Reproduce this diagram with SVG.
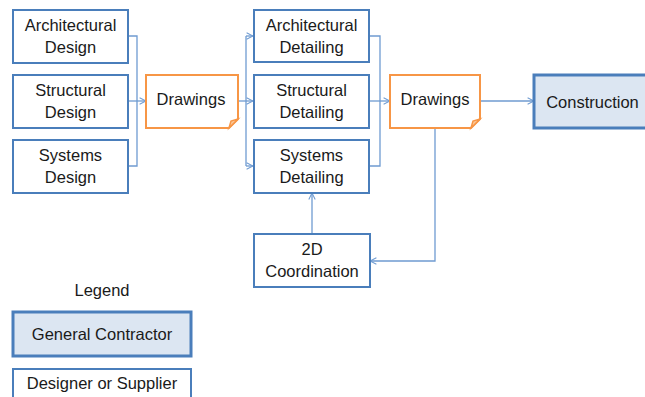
<svg xmlns="http://www.w3.org/2000/svg" width="645" height="397" viewBox="0 0 645 397">
  <defs>
    <style>
      .box { fill: #ffffff; stroke: #4a7ebb; stroke-width: 2; }
      .gc { fill: #dce6f2; stroke: #4a7ebb; stroke-width: 3; }
      .doc { fill: #ffffff; stroke: #f79646; stroke-width: 2; stroke-linejoin: miter; }
      .fold { fill: #fbc99b; stroke: #f79646; stroke-width: 1.5; }
      .lbl { font-family: "Liberation Sans", Arial, sans-serif; font-size: 16.5px; fill: #1a1a1a; text-anchor: middle; }
      .conn { fill: none; stroke: #6f9bd1; stroke-width: 1.3; }
    </style>
    <marker id="arrow" viewBox="0 0 10 10" refX="9" refY="5" markerWidth="8" markerHeight="8" markerUnits="userSpaceOnUse" orient="auto">
      <path d="M1,1 L9,5 L1,9" fill="none" stroke="#6f9bd1" stroke-width="1.3"/>
    </marker>
  </defs>

  <!-- connectors -->
  <g id="connectors" class="conn">
    <path d="M128,36 H137 V166 H128"/>
    <path d="M128,101 H146" marker-end="url(#arrow)"/>
    <path d="M238,101 H246"/>
    <path d="M246,36 V166"/>
    <path d="M246,36 H253" marker-end="url(#arrow)"/>
    <path d="M246,101 H253" marker-end="url(#arrow)"/>
    <path d="M246,166 H253" marker-end="url(#arrow)"/>
    <path d="M369,36 H380 V166 H369"/>
    <path d="M369,101 H390" marker-end="url(#arrow)"/>
    <path d="M480,101 H534" marker-end="url(#arrow)"/>
    <path d="M435,128 V261 H370" marker-end="url(#arrow)"/>
    <path d="M312,234 V193" marker-end="url(#arrow)"/>
  </g>

  <!-- design stage -->
  <g id="arch-design">
    <rect class="box" x="13" y="10" width="115" height="53"/>
    <text class="lbl" x="70.5" y="31">Architectural</text>
    <text class="lbl" x="70.5" y="53">Design</text>
  </g>
  <g id="struct-design">
    <rect class="box" x="13" y="75" width="115" height="53"/>
    <text class="lbl" x="70.5" y="96">Structural</text>
    <text class="lbl" x="70.5" y="118">Design</text>
  </g>
  <g id="sys-design">
    <rect class="box" x="13" y="140" width="115" height="53"/>
    <text class="lbl" x="70.5" y="161">Systems</text>
    <text class="lbl" x="70.5" y="183">Design</text>
  </g>

  <!-- design drawings -->
  <g id="drawings-1">
    <path class="doc" d="M146,75 H238 V119 L229,128 H146 Z"/>
    <path class="fold" d="M238,119 L229,128 L231,121 Z"/>
    <text class="lbl" x="191" y="105">Drawings</text>
  </g>

  <!-- detailing stage -->
  <g id="arch-detailing">
    <rect class="box" x="254" y="10" width="115" height="52"/>
    <text class="lbl" x="311.5" y="31">Architectural</text>
    <text class="lbl" x="311.5" y="53">Detailing</text>
  </g>
  <g id="struct-detailing">
    <rect class="box" x="254" y="75" width="115" height="53"/>
    <text class="lbl" x="311.5" y="96">Structural</text>
    <text class="lbl" x="311.5" y="118">Detailing</text>
  </g>
  <g id="sys-detailing">
    <rect class="box" x="254" y="140" width="115" height="53"/>
    <text class="lbl" x="311.5" y="161">Systems</text>
    <text class="lbl" x="311.5" y="183">Detailing</text>
  </g>

  <!-- shop drawings -->
  <g id="drawings-2">
    <path class="doc" d="M390,75 H480 V119 L471,128 H390 Z"/>
    <path class="fold" d="M480,119 L471,128 L473,121 Z"/>
    <text class="lbl" x="435" y="105">Drawings</text>
  </g>

  <g id="construction">
    <rect class="gc" x="534" y="75" width="118" height="53"/>
    <text class="lbl" x="592.5" y="108">Construction</text>
  </g>

  <g id="coordination">
    <rect class="box" x="254" y="234" width="116" height="53"/>
    <text class="lbl" x="312" y="255">2D</text>
    <text class="lbl" x="312" y="277">Coordination</text>
  </g>

  <!-- legend -->
  <g id="legend">
    <text class="lbl" x="102" y="296">Legend</text>
    <rect class="gc" x="13" y="312" width="178" height="44"/>
    <text class="lbl" x="102" y="340">General Contractor</text>
    <rect class="box" x="13" y="369" width="178" height="40"/>
    <text class="lbl" x="102" y="389">Designer or Supplier</text>
  </g>
</svg>
